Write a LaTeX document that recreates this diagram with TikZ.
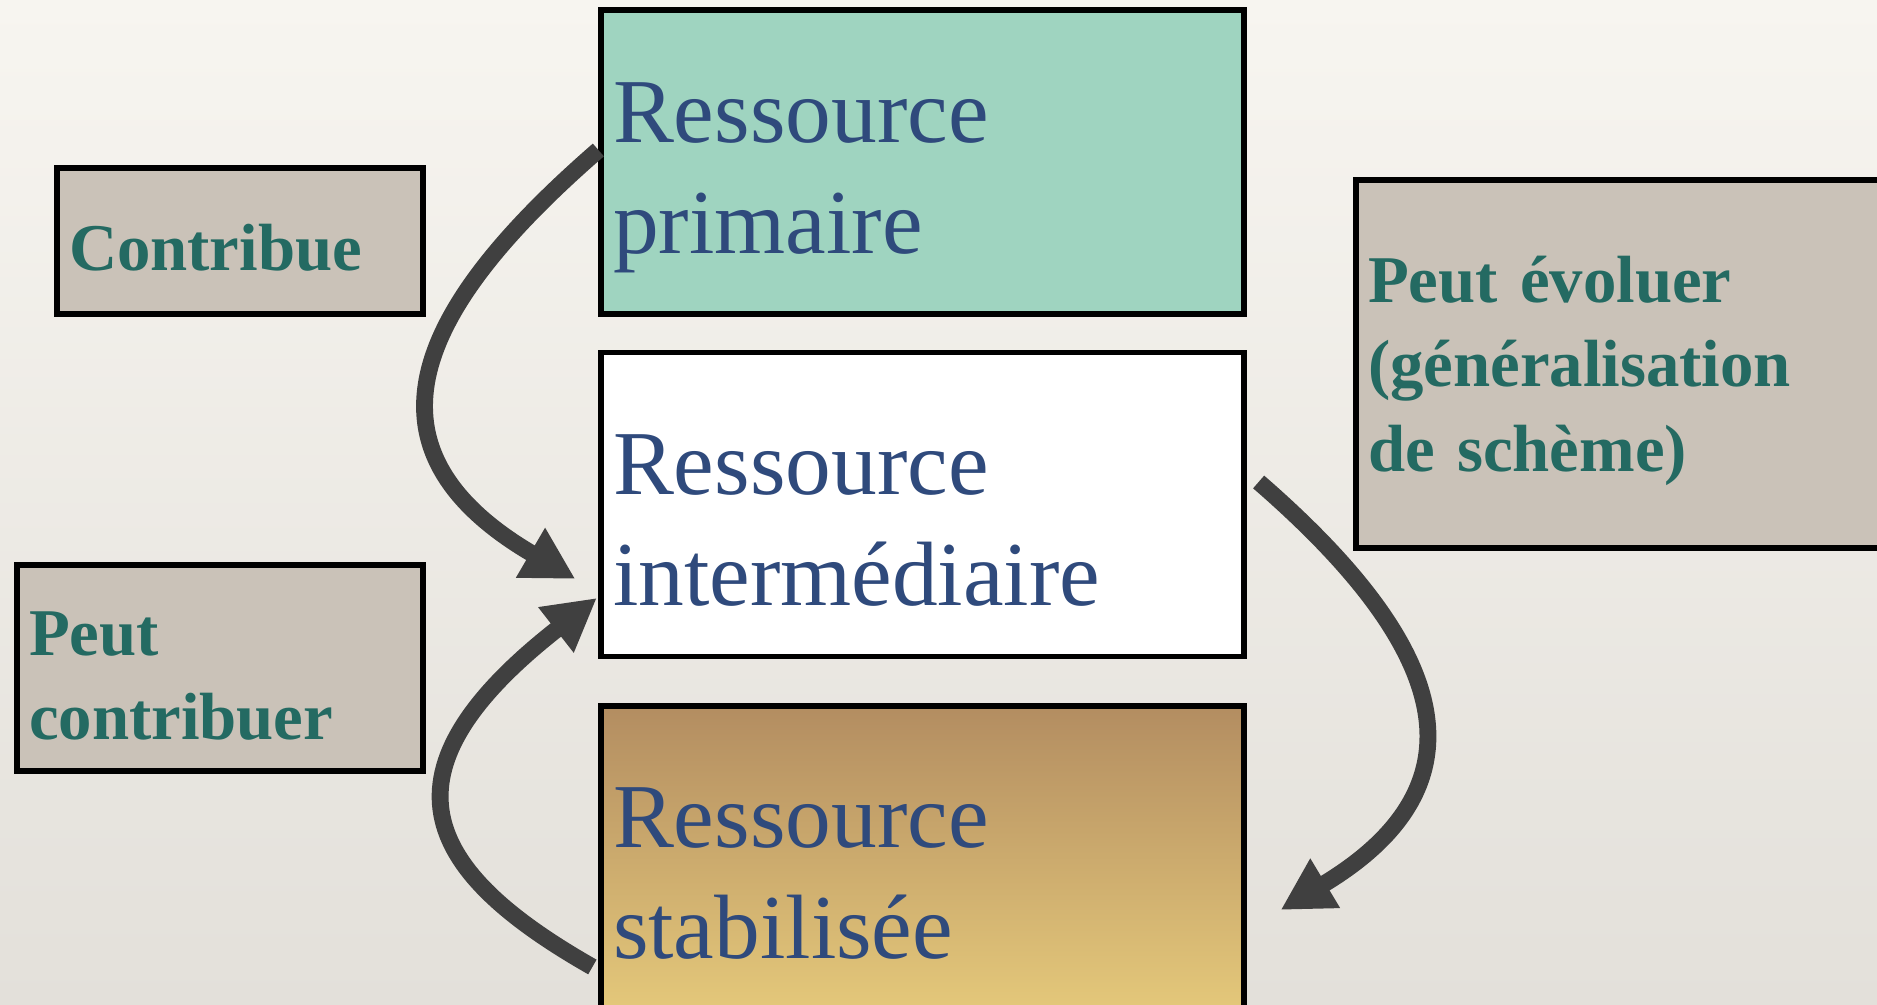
\documentclass[tikz,border=0pt]{standalone}
\usepackage{fontspec}
\setmainfont{Liberation Serif}
\usetikzlibrary{arrows.meta}
\definecolor{bgtop}{HTML}{F7F5F0}
\definecolor{bgbot}{HTML}{E3E0DA}
\definecolor{primfill}{HTML}{9FD4C0}
\definecolor{notegrey}{HTML}{CAC2B8}
\definecolor{stabtop}{HTML}{B38D61}
\definecolor{stabbot}{HTML}{E4C87A}
\definecolor{resblue}{HTML}{2F4A7C}
\definecolor{noteteal}{HTML}{246A62}
\definecolor{arrowgrey}{HTML}{404040}

\begin{document}
\begin{tikzpicture}[x=0.1mm,y=0.1mm,
    box/.style={draw=black,line width=1.5pt,align=left,inner xsep=1.2mm,inner ysep=0pt},
    res/.style={box,text width=61.9mm,minimum height=30.4mm,font=\fontsize{26}{31.5}\selectfont,text=resblue,
      execute at begin node={\rule{0pt}{26pt}}},
    note/.style={box,fill=notegrey,font=\fontsize{19}{24}\selectfont\bfseries,text=noteteal,
      execute at begin node={\rule{0pt}{17pt}}},
    flow/.style={draw=arrowgrey,line width=4.8pt,-{Triangle[length=5.2mm,width=5.4mm]}}]
    \useasboundingbox (0,0) rectangle (1877,1005);
    \clip (0,0) rectangle (1877,1005);
    \shade[top color=bgtop,bottom color=bgbot] (0,0) rectangle (1877,1005);
    \node[res,fill=primfill] (prim) at (922.5,843) {Ressource\\primaire};
    \node[res,fill=white] (inter) at (922.5,500.5) {Ressource\\intermédiaire};
    \node[res,top color=stabtop,bottom color=stabbot] (stab) at (922.5,147) {Ressource\\stabilisée};
    \node[note,text width=34.2mm,minimum height=14.6mm] (contrib) at (240,764) {Contribue};
    \node[note,text width=38.2mm,minimum height=20.6mm] (peutcontrib) at (220,337) {Peut\\contribuer};
    \node[note,text width=52mm,minimum height=36.8mm] (evol) at (1628,641) {Peut évoluer\\(généralisation\\de schème)};
    \draw[flow] ([yshift=1.2mm]prim.west) .. controls (418.6,699) and (348.5,558.5) .. ([xshift=-2.3mm,yshift=-7.45mm]inter.west);
    \draw[flow] ([xshift=-0.6mm,yshift=-10.9mm]stab.west) .. controls (420,136) and (374.4,233.2) .. ([xshift=-0.15mm,yshift=-9.35mm]inter.west);
    \draw[flow] ([xshift=1.2mm,yshift=2.25mm]inter.east) .. controls (1446,360.5) and (1493,222.5) .. ([xshift=3.4mm,yshift=-5.2mm]stab.east);
\end{tikzpicture}
\end{document}
